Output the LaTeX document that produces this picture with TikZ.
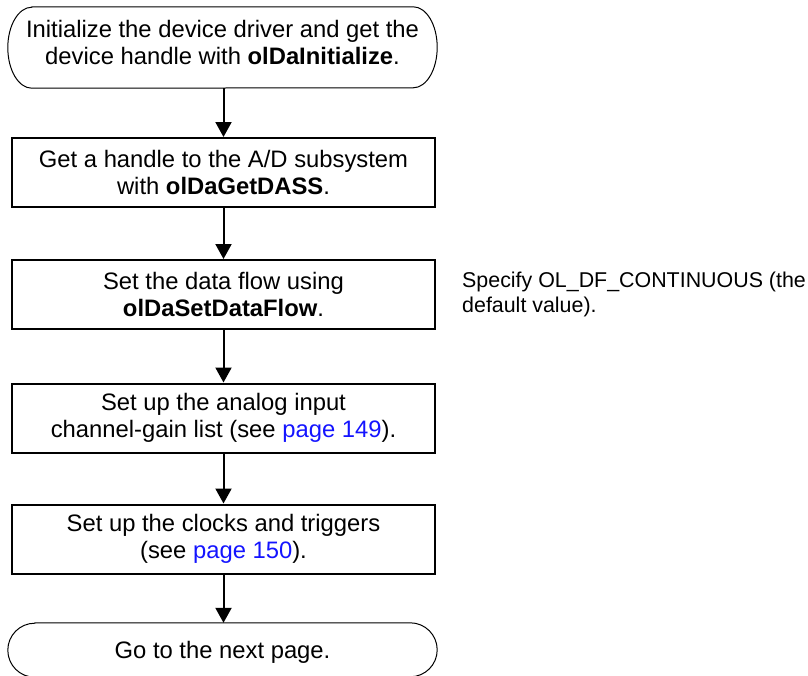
\documentclass[tikz,border=0pt]{standalone}
\usepackage{fontspec}
\setmainfont{Liberation Sans}
\usetikzlibrary{arrows.meta}

\definecolor{linkblue}{RGB}{20,20,255}
\newcommand{\mainsize}{\fontsize{23.8pt}{27.5pt}\selectfont}
\newcommand{\notesize}{\fontsize{21.4pt}{25pt}\selectfont}
\newcommand{\pagelink}[1]{\textcolor{linkblue}{page #1}}
\newcommand{\fn}[1]{\textbf{#1}}

\tikzset{
  stepbox/.style={draw, line width=2pt, minimum width=423pt, minimum height=69pt,
    inner sep=0pt, align=center, font=\mainsize},
  termspot/.style={inner sep=0pt, align=center, font=\mainsize},
  termline/.style={line width=1pt},
  flow/.style={line width=2pt, -{Triangle[width=16pt,length=15pt]}},
  note/.style={inner sep=0pt, align=left, font=\notesize, anchor=north west}
}

\begin{document}
\begin{tikzpicture}[x=1pt, y=-1pt]
  \useasboundingbox (0,0) rectangle (808,675);
  \clip (0,0) rectangle (808,675);

  % start terminal (extra text depth lifts the two lines a little)
  \node[termspot, minimum width=429pt, minimum height=81pt, text depth=10pt] (start) at (222.5,47.5)
    {Initialize the device driver and get the\\device handle with \fn{olDaInitialize}.};
  \draw[termline] ([xshift=24pt]start.north west) -- ([xshift=-24pt]start.north east)
    arc[start angle=90, end angle=-90, x radius=24pt, y radius=40.5pt]
    -- ([xshift=24pt]start.south west)
    arc[start angle=270, end angle=90, x radius=24pt, y radius=40.5pt] -- cycle;

  % processing steps
  \node[stepbox] (dass) at (223.5,172.5)
    {Get a handle to the A/D subsystem\\with \fn{olDaGetDASS}.};
  \node[stepbox] (flow) at (223.5,294.5)
    {Set the data flow using\\\fn{olDaSetDataFlow}.};
  \node[stepbox] (cgl) at (223.5,418)
    {Set up the analog input\\channel-gain list (see \pagelink{149}).};
  \node[stepbox] (clk) at (223.5,539)
    {Set up the clocks and triggers\\(see \pagelink{150}).};

  % end terminal
  \node[termspot, minimum width=429pt, minimum height=54pt, text height=21pt] (next) at (222.5,650)
    {Go to the next page.};
  \draw[termline] ([xshift=27pt]next.north west) -- ([xshift=-27pt]next.north east)
    arc[start angle=90, end angle=-90, x radius=27pt, y radius=27pt]
    -- ([xshift=27pt]next.south west)
    arc[start angle=270, end angle=90, x radius=27pt, y radius=27pt] -- cycle;

  % side note
  \node[note] (dfnote) at (462,271.5)
    {Specify OL\_DF\_CONTINUOUS (the\\default value).};

  % connectors
  \draw[flow] (start.south -| dass.north) -- (dass.north);
  \draw[flow] (dass.south) -- (flow.north);
  \draw[flow] (flow.south) -- (cgl.north);
  \draw[flow] (cgl.south) -- (clk.north);
  \draw[flow] (clk.south) -- (clk.south |- next.north);
\end{tikzpicture}
\end{document}
